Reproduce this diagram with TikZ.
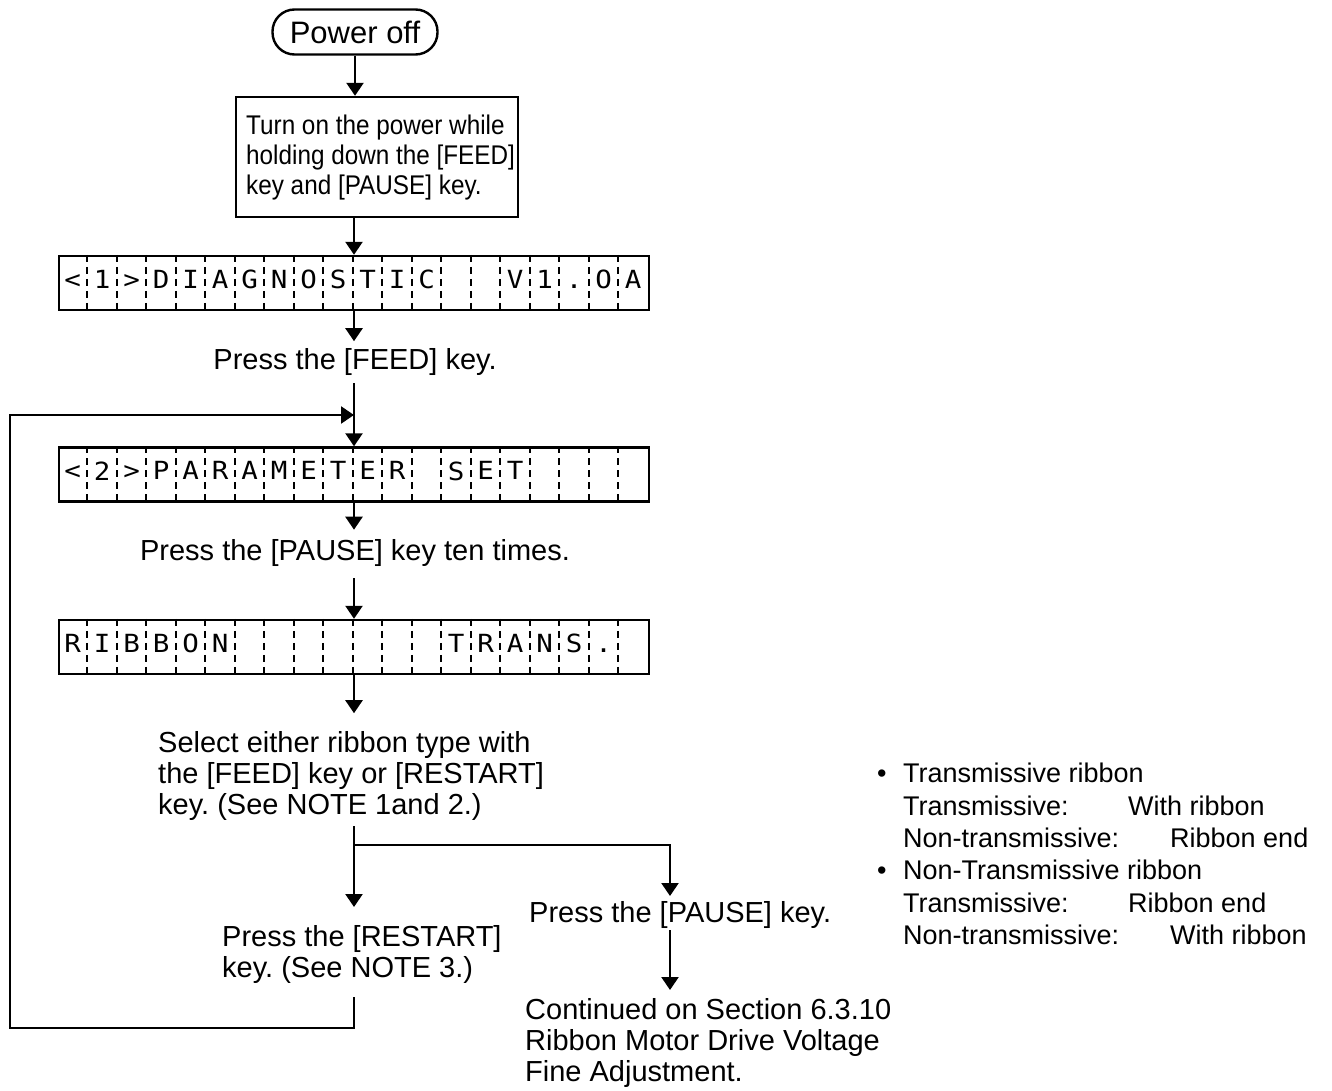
\documentclass[tikz,border=0pt]{standalone}
\usepackage{fontspec}
\setmainfont{Liberation Sans}
\newfontfamily\condfont[FakeStretch=0.9]{Liberation Sans}
\newfontfamily\lcdfont[FakeStretch=1.1]{DejaVu Sans Mono}
\usetikzlibrary{arrows.meta,calc}
\tikzset{
  conn/.style={line width=2.4pt},
  arr/.style={line width=2.4pt,-{Triangle[width=17pt,length=13pt]}},
  txt/.style={inner sep=0pt,font=\fontsize{29}{31}\selectfont,align=left},
  note/.style={inner sep=0pt,font=\fontsize{27}{31}\selectfont,anchor=base west},
  lcdbox/.style={draw,line width=2.4pt,minimum width=590pt,minimum height=54pt,inner sep=0pt},
  lcdsep/.style={line width=2pt,dash pattern=on 7pt off 5pt},
  lcdchar/.style={inner sep=0pt,font=\lcdfont\fontsize{25}{25}\selectfont}
}
\newcommand\lcdrow[3]{%
  \node[lcdbox] (#1) at (354,#2) {};
  \foreach \k in {1,...,19} {
    \draw[lcdsep] ($(#1.north west)+(\k*29.5,0)$) -- ($(#1.south west)+(\k*29.5,0)$);
  }
  \foreach \c [count=\k] in {#3} {
    \node[lcdchar] (#1c\k) at ($(#1.west)+(\k*29.5-14.75,0)$) {\strut\c};
  }
}
\begin{document}
\frenchspacing
\begin{tikzpicture}[x=1pt,y=-1pt]
\useasboundingbox (0,0) rectangle (1332,1091);
% start
\node[draw,line width=2.4pt,rounded corners=22pt,minimum width=165pt,minimum height=45pt,inner sep=0pt,font=\fontsize{31}{31}\selectfont] (power) at (355,32) {Power off};
\node[draw,line width=2.4pt,minimum width=282pt,minimum height=120pt,inner sep=0pt] (box) at (377,157) {};
\node[inner sep=0pt,align=left,font=\condfont\fontsize{27}{30}\selectfont,anchor=west] (boxtxt) at (246,158) {Turn on the power while\\holding down the [FEED]\\key and [PAUSE] key.};
\draw[arr] (power.south) -- (power.south |- box.north);
\lcdrow{lcda}{283}{<,1,>,D,I,A,G,N,O,S,T,I,C,{},{},V,1,.,O,A}
\draw[arr] (lcda.south |- box.south) -- (lcda.north);
\draw[arr] (lcda.south) -- ++(0,30);
\node[txt,anchor=center] (feed) at (355,362) {Press the [FEED] key.};
\coordinate (join) at (354,415);
\lcdrow{lcdb}{474.5}{<,2,>,P,A,R,A,M,E,T,E,R,{},S,E,T,{},{},{},{}}
\draw[arr] (354,383) -- (lcdb.north);
\draw[arr] (lcdb.south) -- ++(0,27);
\node[txt,anchor=center] (pause) at (355,553) {Press the [PAUSE] key ten times.};
\lcdrow{lcdc}{647}{R,I,B,B,O,N,{},{},{},{},{},{},{},T,R,A,N,S,.,{}}
\draw[arr] (354,578) -- (lcdc.north);
\draw[arr] (lcdc.south) -- ++(0,38);
\node[txt,anchor=west] (select) at (158,776) {Select either ribbon type with\\the [FEED] key or [RESTART]\\key. (See NOTE 1and 2.)};
\coordinate (branch) at (354,845);
\draw[conn] (354,826) -- (branch);
\draw[arr] (branch) -- (354,907);
\draw[arr] (branch) -| (670,896);
\node[txt,anchor=west] (restart) at (222,954) {Press the [RESTART]\\key. (See NOTE 3.)};
\node[txt,anchor=west] (pkey) at (529,915) {Press the [PAUSE] key.};
\draw[arr] (670,930) -- (670,990);
\node[txt,anchor=west] (cont) at (525,1043) {Continued on Section 6.3.10\\Ribbon Motor Drive Voltage\\Fine Adjustment.};
\draw[arr] (354,997) -- (354,1028) -- (10,1028) -- (10,415) -- (join);
% notes
\node[note] (b1) at (877,782) {\textbullet};
\node[note] (n1) at (903,782) {Transmissive ribbon};
\node[note] (n2) at (903,815) {Transmissive:};
\node[note] (n2b) at (1128,815) {With ribbon};
\node[note] (n3) at (903,847) {Non-transmissive:};
\node[note] (n3b) at (1170,847) {Ribbon end};
\node[note] (b2) at (877,879) {\textbullet};
\node[note] (n4) at (903,879) {Non-Transmissive ribbon};
\node[note] (n5) at (903,912) {Transmissive:};
\node[note] (n5b) at (1128,912) {Ribbon end};
\node[note] (n6) at (903,944) {Non-transmissive:};
\node[note] (n6b) at (1170,944) {With ribbon};
\end{tikzpicture}
\end{document}
